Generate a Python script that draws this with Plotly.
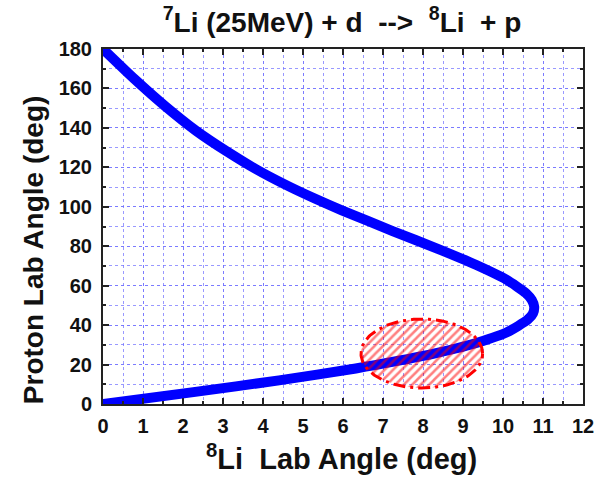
import plotly.graph_objects as go
import numpy as np

# ---- data (8Li lab angle vs proton lab angle, deg) ----
li8_lab_angle = [0, 0.78, 1.56, 2.33, 3.10, 3.84, 4.57, 5.28, 5.97, 6.62, 7.24,
                 8.37, 9.32, 10.08, 10.58, 10.72, 10.78, 10.75, 10.62, 10.10,
                 9.20, 7.94, 6.32, 4.40, 2.26, 0]
proton_lab_angle = [180, 164.9, 150.9, 138.5, 128.0, 118.9, 111.1, 104.3, 98.2,
                    92.8, 87.7, 78.7, 70.6, 63.1, 56.1, 52.7, 49.3, 46.0, 42.8,
                    36.4, 30.2, 24.1, 18.0, 12.0, 6.0, 0]

# acceptance region (ellipse) centre and half-widths
ellipse_center = (7.97, 25.6)
ellipse_radius = (1.52, 17.5)

x_ticks = list(range(0, 13))
y_ticks = list(range(0, 181, 20))

FONT = "Liberation Sans, Arial, sans-serif"
TXT = "#111111"

t = np.linspace(0, 2 * np.pi, 200)
ex = ellipse_center[0] + ellipse_radius[0] * np.cos(t)
ey = ellipse_center[1] + ellipse_radius[1] * np.sin(t)

fig = go.Figure()
fig.add_trace(go.Scatter(
    x=li8_lab_angle, y=proton_lab_angle, mode="lines",
    line=dict(color="#0000ff", width=10, shape="spline", smoothing=0.6),
    showlegend=False, hoverinfo="skip"))
fig.add_trace(go.Scatter(
    x=ex, y=ey, mode="lines", fill="toself",
    fillcolor="rgba(0,0,0,0)",
    fillpattern=dict(shape="/", fgcolor="#ff0000", bgcolor="rgba(0,0,0,0)",
                     size=6, solidity=0.42),
    line=dict(color="#ff0000", width=3, dash="12px,5px,3px,5px"),
    showlegend=False, hoverinfo="skip"))

grid_col = "rgba(110,110,255,0.7)"
axis_common = dict(
    showline=True, linecolor="#222222", linewidth=2, mirror="ticks",
    ticks="inside", ticklen=6, tickwidth=1.5, tickcolor="#222222",
    showgrid=True, gridcolor=grid_col, griddash="dot", gridwidth=1,
    zeroline=False,
    tickfont=dict(family=FONT, size=20, color=TXT, weight="bold"),
)

fig.update_xaxes(range=[0, 12], tickvals=x_ticks, ticktext=[str(v) for v in x_ticks],
                 minor=dict(dtick=0.5, ticks="inside", ticklen=3, showgrid=True,
                            gridcolor=grid_col, griddash="dot"),
                 ticklabelstandoff=3, **axis_common)
fig.update_yaxes(range=[0, 180], tickvals=y_ticks, ticktext=[str(v) for v in y_ticks],
                 minor=dict(dtick=10, ticks="inside", ticklen=3, showgrid=True,
                            gridcolor=grid_col, griddash="dot"),
                 ticklabelstandoff=5, **axis_common)

fig.update_layout(
    width=606, height=479,
    margin=dict(l=103, r=15, t=49, b=75),
    plot_bgcolor="white", paper_bgcolor="white",
    title=dict(text="<sup>7</sup>Li (25MeV) + d  --&gt;  <sup>8</sup>Li  + p",
               x=342 / 606, xanchor="center", y=1 - 22 / 479, yanchor="middle",
               xref="container", yref="container",
               font=dict(family=FONT, size=28, color=TXT, weight="bold")),
    annotations=[
        dict(text="<sup>8</sup>Li  Lab Angle (deg)", xref="paper", yref="paper",
             x=(345 - 103) / 488, y=(404 - 457) / 355, xanchor="center", yanchor="middle",
             showarrow=False, font=dict(family=FONT, size=29, color=TXT, weight="bold")),
        dict(text="Proton Lab Angle (deg)", xref="paper", yref="paper",
             x=(32 - 103) / 488, y=(404 - 250) / 355, xanchor="center", yanchor="middle",
             textangle=-90, showarrow=False,
             font=dict(family=FONT, size=28, color=TXT, weight="bold")),
    ],
)

fig.write_html("out.html")
